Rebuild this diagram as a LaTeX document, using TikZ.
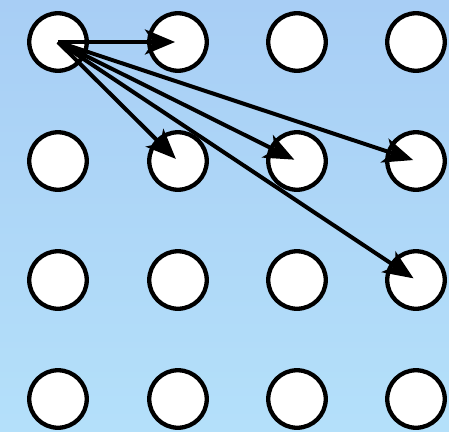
\documentclass[tikz,border=0pt]{standalone}
\usetikzlibrary{arrows.meta}
\definecolor{bgtop}{RGB}{168,206,245}
\definecolor{bgbot}{RGB}{180,224,250}
\tikzset{
  dot/.style={circle, draw=black, fill=white, line width=4.3pt, minimum size=57.5pt, inner sep=0pt},
  link/.style={line width=4pt, -{Stealth[length=30pt, width=25pt, inset=8pt]}, shorten >=3pt}
}
\begin{document}
\begin{tikzpicture}[x=1pt,y=-1pt]
\shade[top color=bgtop, bottom color=bgbot] (0,0) rectangle (449,431);
\useasboundingbox (0,0) rectangle (449,431);
\foreach \r/\y in {1/42,2/161,3/280,4/399}{
  \foreach \c/\x in {1/58,2/178,3/297,4/416}{
    \node[dot] (n\r\c) at (\x,\y) {};
  }
}
\draw[link] (n11.center) -- (n12.center);
\draw[link] (n11.center) -- (n22.center);
\draw[link] (n11.center) -- (n23.center);
\draw[link] (n11.center) -- (n24.center);
\draw[link] (n11.center) -- (n34.center);
\end{tikzpicture}
\end{document}
